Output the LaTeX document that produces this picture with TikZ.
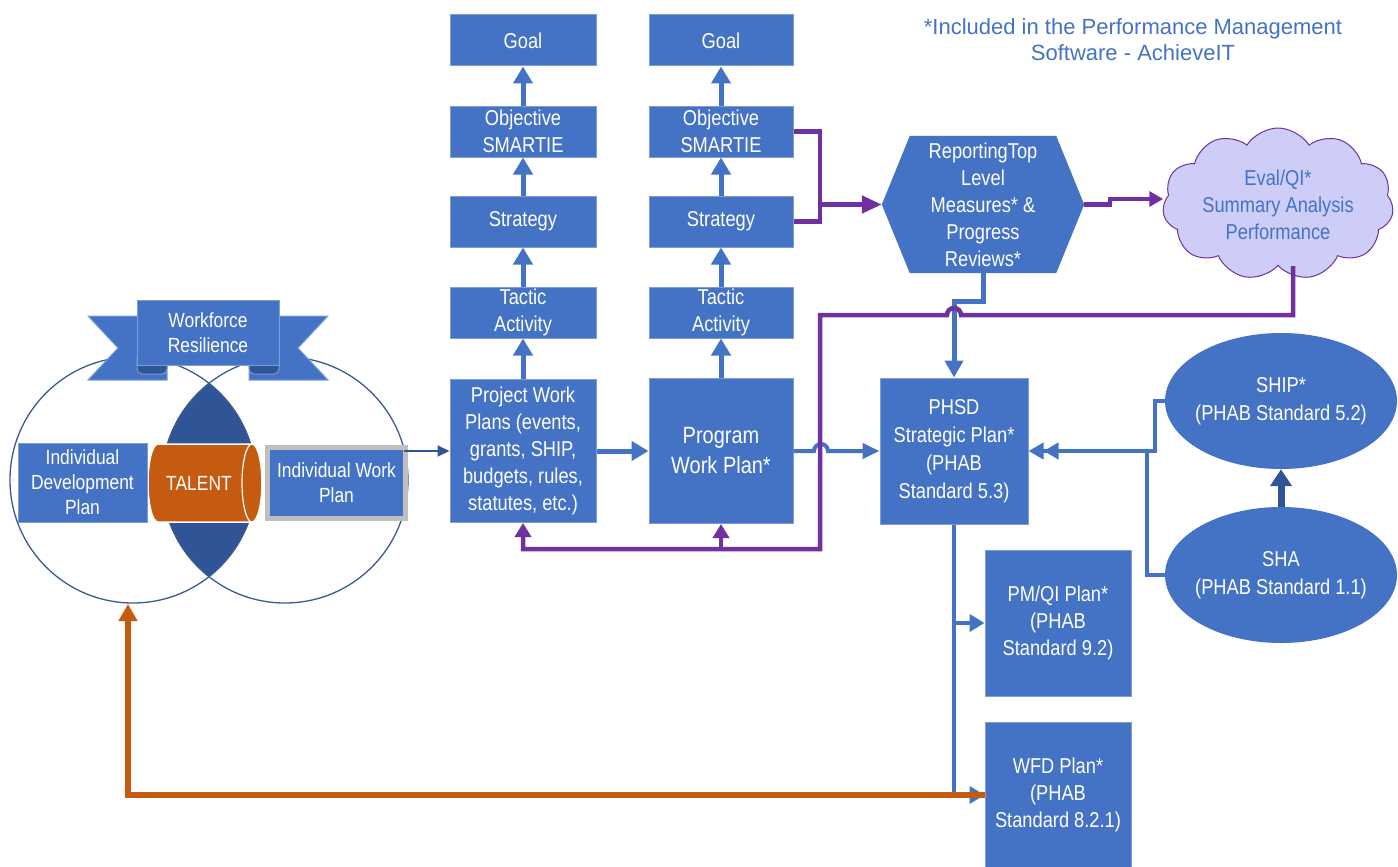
\documentclass[tikz,border=0pt]{standalone}
\usepackage{fontspec}
\setmainfont{Liberation Sans}[FakeStretch=0.85]
\newfontfamily\notefont{Liberation Sans}
\usetikzlibrary{arrows.meta,shapes.geometric,shapes.symbols,backgrounds}
\definecolor{blueA}{HTML}{4472C4}
\definecolor{blueD}{HTML}{2F5597}
\definecolor{purp}{HTML}{7030A0}
\definecolor{orng}{HTML}{C55A11}
\definecolor{lav}{HTML}{CDCDF7}
\definecolor{bline}{HTML}{7E9DD6}
\definecolor{vennline}{HTML}{3B5A8F}
\definecolor{grayb}{HTML}{BFBFBF}
\begin{document}
\begin{tikzpicture}[x=1pt,y=-1pt,
  txt/.style={text=white,align=center,inner sep=0pt,font=\fontsize{21.5}{27}\selectfont},
  box/.style={txt,fill=blueA,draw=bline,line width=1pt},
  sbox/.style={box,minimum width=146pt,minimum height=51pt},
  bigbox/.style={box,minimum width=146pt,minimum height=145pt},
  barrow/.style={draw=blueA,line width=5pt,-{Triangle[length=17pt,width=19pt]}},
  bthin/.style={draw=blueA,line width=4pt},
  pline/.style={draw=purp,line width=4.5pt},
  oline/.style={draw=orng,line width=6pt},
]
\useasboundingbox (0,0) rectangle (1398,867);

% ---------------- Venn ----------------
\begin{scope}
  \clip (133,480) circle[radius=123];
  \fill[blueD] (285,480) circle[radius=123];
\end{scope}
\draw[vennline,line width=1.3pt] (133,480) circle[radius=123];
\draw[vennline,line width=1.3pt] (285,480) circle[radius=123];
\coordinate (lcb) at (128,604);

% TALENT cylinder
\filldraw[fill=orng,draw=white,line width=1.5pt] (158,444) -- (252,444)
  arc[start angle=-90,end angle=90,x radius=10,y radius=39] -- (158,522)
  arc[start angle=90,end angle=270,x radius=10,y radius=39] -- cycle;
\draw[white,line width=1.2pt] (252,444) arc[start angle=-90,end angle=-270,x radius=10,y radius=39];
\node[txt,font=\fontsize{20.5}{25}\selectfont] (talent) at (199,483) {TALENT};

\node[box,minimum width=129pt,minimum height=79pt,font=\fontsize{20.5}{25}\selectfont] (idp) at (82.5,482.5) {Individual\\Development\\Plan};
\node[box,draw=grayb,line width=5pt,minimum width=138pt,minimum height=71pt,font=\fontsize{20.5}{25}\selectfont] (iwp) at (336.5,483) {Individual Work\\Plan};
\coordinate (iwpc) at ([xshift=-4pt,yshift=-6pt]iwp.north east);

% ribbon
\filldraw[fill=blueA,draw=bline,line width=1pt] (88,316) -- (167,316) -- (167,380) -- (88,380) -- (118,348) -- cycle;
\filldraw[fill=blueA,draw=bline,line width=1pt] (328,316) -- (249,316) -- (249,380) -- (328,380) -- (298,348) -- cycle;
\filldraw[fill=blueD,draw=bline,line width=1pt,rounded corners=5pt] (137,352) rectangle (167,374);
\filldraw[fill=blueD,draw=bline,line width=1pt,rounded corners=5pt] (249,352) rectangle (279,374);
\node[box,minimum width=142pt,minimum height=65pt,font=\fontsize{20.5}{25}\selectfont] (ribbon) at (208,332.5) {Workforce\\Resilience};

% ---------------- columns ----------------
\node[sbox] (goal1) at (523,40.5) {Goal};
\node[sbox] (obj1) at (523,131.5) {Objective\\SMARTIE};
\node[sbox] (str1) at (523,221.5) {Strategy};
\node[sbox] (tac1) at (523,312.5) {Tactic\\Activity};
\node[bigbox,minimum height=143pt] (pwp) at (523,451) {Project Work\\Plans (events,\\grants, SHIP,\\budgets, rules,\\statutes, etc.)};

\node[sbox,minimum width=144pt] (goal2) at (721,40.5) {Goal};
\node[sbox,minimum width=144pt] (obj2) at (721,131.5) {Objective\\SMARTIE};
\node[sbox,minimum width=144pt] (str2) at (721,221.5) {Strategy};
\node[sbox,minimum width=144pt] (tac2) at (721,312.5) {Tactic\\Activity};
\node[bigbox,minimum width=144pt,font=\fontsize{23.5}{30}\selectfont] (prog) at (721,451) {Program\\Work Plan*};

\node[bigbox,minimum width=148pt,minimum height=146pt,font=\fontsize{21.5}{28}\selectfont] (phsd) at (954,451) {PHSD\\Strategic Plan*\\(PHAB\\Standard 5.3)};
\node[bigbox,minimum height=146pt] (pmqi) at (1058,623) {PM/QI Plan*\\(PHAB\\Standard 9.2)};
\node[bigbox,minimum height=146pt] (wfd) at (1058,795) {WFD Plan*\\(PHAB\\Standard 8.2.1)};

% hexagon
\node[txt,minimum width=202pt,minimum height=137pt] (hex) at (983,204.5) {ReportingTop\\Level\\Measures* \&\\Progress\\Reviews*};
\begin{scope}[on background layer]
\fill[blueA] (hex.west) -- ([xshift=28pt]hex.north west) -- ([xshift=-28pt]hex.north east) -- (hex.east) -- ([xshift=-28pt]hex.south east) -- ([xshift=28pt]hex.south west) -- cycle;
\end{scope}

% cloud
\node[cloud,cloud puffs=11,cloud puff arc=115,cloud ignores aspect,fill=lav,draw=purp,line width=1pt,minimum width=231pt,minimum height=152pt,inner sep=0pt] (cloud) at (1278,204) {};
\node[txt,text=blueA] (cloudtxt) at (1278,205) {Eval/QI*\\Summary Analysis\\Performance};

% ellipses
\node[ellipse,fill=blueA,minimum width=232pt,minimum height=136pt,inner sep=0pt] (ship) at (1281,401) {};
\node[txt,font=\fontsize{21.5}{28}\selectfont] (shiptxt) at (ship) {SHIP*\\(PHAB Standard 5.2)};
\node[ellipse,fill=blueA,minimum width=232pt,minimum height=136pt,inner sep=0pt] (sha) at (1281,575) {};
\node[txt,font=\fontsize{21.5}{28}\selectfont] (shatxt) at (sha) {SHA\\(PHAB Standard 1.1)};

% note
\node[text=blueA,align=center,inner sep=0pt,font=\notefont\fontsize{22}{26}\selectfont] (note) at (1133,40) {*Included in the Performance Management\\Software - AchieveIT};

% ---------------- connectors ----------------
\draw[barrow] (pwp.north) -- (tac1.south);
\draw[barrow] (tac1.north) -- (str1.south);
\draw[barrow] (str1.north) -- (obj1.south);
\draw[barrow] (obj1.north) -- (goal1.south);
\draw[barrow] (prog.north) -- (tac2.south);
\draw[barrow] (tac2.north) -- (str2.south);
\draw[barrow] (str2.north) -- (obj2.south);
\draw[barrow] (obj2.north) -- (goal2.south);
\draw[barrow] (pwp.east) -- (prog.west);

\draw[draw=blueD,line width=2pt,-{Triangle[length=12pt,width=11pt]}] (iwpc) -- (pwp.west);

\draw[bthin,-{Triangle[length=17pt,width=15pt]}] (prog.east) -- (814,451) arc[start angle=180,end angle=360,radius=7] -- (phsd.west);

\draw[bthin,line width=5pt,-{Triangle[length=17pt,width=18pt]}] (hex.south) -- ++(0,28) -| (phsd.north);

\draw[bthin,-{Triangle[length=15pt,width=16pt] Triangle[length=15pt,width=16pt]}] (ship.west) -- (1155,401) -- (1155,451) -- (phsd.east);
\coordinate (shaj) at (1147,451);
\draw[bthin] (sha.west) -- (1147,575) -- (shaj);
\draw[draw=blueD,line width=7pt,-{Triangle[length=17pt,width=21pt]}] (sha.north) -- (ship.south);

\coordinate (pmj) at (954,623);
\draw[bthin,-{Triangle[length=15pt,width=17pt]}] (phsd.south) |- (wfd.west);
\draw[bthin,-{Triangle[length=15pt,width=17pt]}] (pmj) -- (pmqi.west);

% purple
\coordinate (pj) at (820,204.5);
\draw[pline] (obj2.east) -- (820,131.5) -- (820,221.5) -- (str2.east);
\draw[pline,-{Triangle[length=20pt,width=17pt]}] (pj) -- (hex.west);
\draw[pline,-{Triangle[length=14pt,width=15pt]}] (hex.east) -- (1110,204.5) -- (1110,199) -- (cloud.west |- 0,199);
\draw[pline,-{Triangle[length=14pt,width=16pt]}] ([xshift=15pt]cloud.south) -- (1293,315) -- (961,315) arc[start angle=0,end angle=-180,radius=7] -- (820,315) -- (820,549) -- (523,549) -- (pwp.south);
\coordinate (pb) at (721,549);
\draw[pline,-{Triangle[length=14pt,width=16pt]}] (pb) -- (prog.south);

% orange
\draw[oline,-{Triangle[length=17pt,width=18pt]}] (wfd.west) -| (lcb);
\end{tikzpicture}
\end{document}
